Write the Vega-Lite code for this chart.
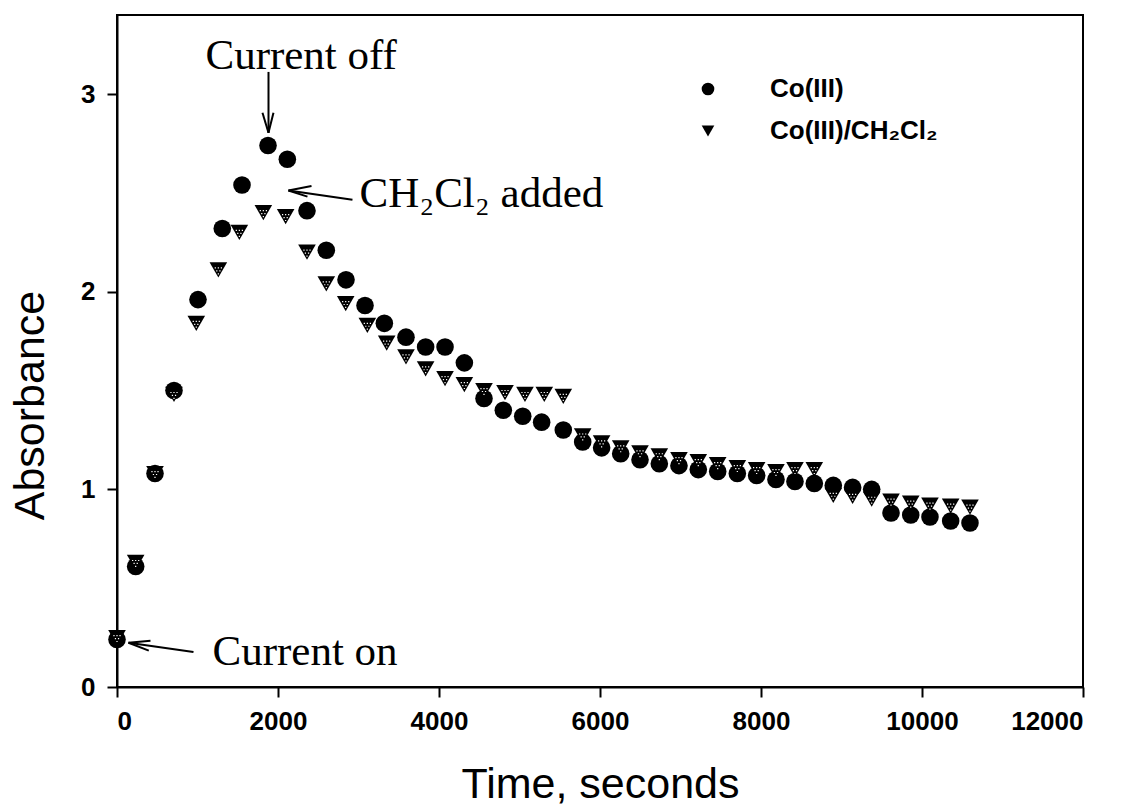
{
  "$schema": "https://vega.github.io/schema/vega-lite/v6.json",
  "width": 966,
  "height": 672,
  "autosize": "none",
  "padding": {"left": 117, "top": 15, "right": 40, "bottom": 120},
  "background": "white",
  "datasets": {
    "absorbance": [
      {"series": "Co(III)", "time": 0, "absorbance": 0.24},
      {"series": "Co(III)", "time": 232, "absorbance": 0.61},
      {"series": "Co(III)", "time": 472, "absorbance": 1.08},
      {"series": "Co(III)", "time": 708, "absorbance": 1.50},
      {"series": "Co(III)", "time": 1006, "absorbance": 1.96},
      {"series": "Co(III)", "time": 1308, "absorbance": 2.32},
      {"series": "Co(III)", "time": 1553, "absorbance": 2.54},
      {"series": "Co(III)", "time": 1876, "absorbance": 2.74},
      {"series": "Co(III)", "time": 2116, "absorbance": 2.67},
      {"series": "Co(III)", "time": 2360, "absorbance": 2.41},
      {"series": "Co(III)", "time": 2600, "absorbance": 2.21},
      {"series": "Co(III)", "time": 2845, "absorbance": 2.06},
      {"series": "Co(III)", "time": 3081, "absorbance": 1.93},
      {"series": "Co(III)", "time": 3321, "absorbance": 1.84},
      {"series": "Co(III)", "time": 3590, "absorbance": 1.77},
      {"series": "Co(III)", "time": 3834, "absorbance": 1.72},
      {"series": "Co(III)", "time": 4075, "absorbance": 1.72},
      {"series": "Co(III)", "time": 4315, "absorbance": 1.64},
      {"series": "Co(III)", "time": 4559, "absorbance": 1.46},
      {"series": "Co(III)", "time": 4799, "absorbance": 1.40},
      {"series": "Co(III)", "time": 5040, "absorbance": 1.37},
      {"series": "Co(III)", "time": 5275, "absorbance": 1.34},
      {"series": "Co(III)", "time": 5544, "absorbance": 1.30},
      {"series": "Co(III)", "time": 5785, "absorbance": 1.24},
      {"series": "Co(III)", "time": 6020, "absorbance": 1.21},
      {"series": "Co(III)", "time": 6257, "absorbance": 1.18},
      {"series": "Co(III)", "time": 6497, "absorbance": 1.15},
      {"series": "Co(III)", "time": 6737, "absorbance": 1.13},
      {"series": "Co(III)", "time": 6981, "absorbance": 1.12},
      {"series": "Co(III)", "time": 7221, "absorbance": 1.10},
      {"series": "Co(III)", "time": 7462, "absorbance": 1.09},
      {"series": "Co(III)", "time": 7706, "absorbance": 1.08},
      {"series": "Co(III)", "time": 7946, "absorbance": 1.07},
      {"series": "Co(III)", "time": 8186, "absorbance": 1.05},
      {"series": "Co(III)", "time": 8422, "absorbance": 1.04},
      {"series": "Co(III)", "time": 8662, "absorbance": 1.03},
      {"series": "Co(III)", "time": 8898, "absorbance": 1.02},
      {"series": "Co(III)", "time": 9138, "absorbance": 1.01},
      {"series": "Co(III)", "time": 9375, "absorbance": 1.00},
      {"series": "Co(III)", "time": 9615, "absorbance": 0.88},
      {"series": "Co(III)", "time": 9860, "absorbance": 0.87},
      {"series": "Co(III)", "time": 10099, "absorbance": 0.86},
      {"series": "Co(III)", "time": 10356, "absorbance": 0.84},
      {"series": "Co(III)", "time": 10596, "absorbance": 0.83},
      {"series": "Co(III)/CH₂Cl₂", "time": 0, "absorbance": 0.25},
      {"series": "Co(III)/CH₂Cl₂", "time": 232, "absorbance": 0.63},
      {"series": "Co(III)/CH₂Cl₂", "time": 472, "absorbance": 1.08},
      {"series": "Co(III)/CH₂Cl₂", "time": 708, "absorbance": 1.48},
      {"series": "Co(III)/CH₂Cl₂", "time": 985, "absorbance": 1.84},
      {"series": "Co(III)/CH₂Cl₂", "time": 1259, "absorbance": 2.11},
      {"series": "Co(III)/CH₂Cl₂", "time": 1520, "absorbance": 2.30},
      {"series": "Co(III)/CH₂Cl₂", "time": 1818, "absorbance": 2.40},
      {"series": "Co(III)/CH₂Cl₂", "time": 2095, "absorbance": 2.38},
      {"series": "Co(III)/CH₂Cl₂", "time": 2360, "absorbance": 2.20},
      {"series": "Co(III)/CH₂Cl₂", "time": 2600, "absorbance": 2.04},
      {"series": "Co(III)/CH₂Cl₂", "time": 2841, "absorbance": 1.94},
      {"series": "Co(III)/CH₂Cl₂", "time": 3110, "absorbance": 1.83},
      {"series": "Co(III)/CH₂Cl₂", "time": 3350, "absorbance": 1.74},
      {"series": "Co(III)/CH₂Cl₂", "time": 3590, "absorbance": 1.67},
      {"series": "Co(III)/CH₂Cl₂", "time": 3834, "absorbance": 1.61},
      {"series": "Co(III)/CH₂Cl₂", "time": 4075, "absorbance": 1.56},
      {"series": "Co(III)/CH₂Cl₂", "time": 4315, "absorbance": 1.53},
      {"series": "Co(III)/CH₂Cl₂", "time": 4559, "absorbance": 1.50},
      {"series": "Co(III)/CH₂Cl₂", "time": 4820, "absorbance": 1.49},
      {"series": "Co(III)/CH₂Cl₂", "time": 5068, "absorbance": 1.48},
      {"series": "Co(III)/CH₂Cl₂", "time": 5308, "absorbance": 1.48},
      {"series": "Co(III)/CH₂Cl₂", "time": 5544, "absorbance": 1.47},
      {"series": "Co(III)/CH₂Cl₂", "time": 5785, "absorbance": 1.27},
      {"series": "Co(III)/CH₂Cl₂", "time": 6020, "absorbance": 1.235},
      {"series": "Co(III)/CH₂Cl₂", "time": 6257, "absorbance": 1.21},
      {"series": "Co(III)/CH₂Cl₂", "time": 6497, "absorbance": 1.185},
      {"series": "Co(III)/CH₂Cl₂", "time": 6737, "absorbance": 1.17},
      {"series": "Co(III)/CH₂Cl₂", "time": 6981, "absorbance": 1.15},
      {"series": "Co(III)/CH₂Cl₂", "time": 7221, "absorbance": 1.14},
      {"series": "Co(III)/CH₂Cl₂", "time": 7462, "absorbance": 1.125},
      {"series": "Co(III)/CH₂Cl₂", "time": 7706, "absorbance": 1.11},
      {"series": "Co(III)/CH₂Cl₂", "time": 7946, "absorbance": 1.10},
      {"series": "Co(III)/CH₂Cl₂", "time": 8186, "absorbance": 1.09},
      {"series": "Co(III)/CH₂Cl₂", "time": 8422, "absorbance": 1.10},
      {"series": "Co(III)/CH₂Cl₂", "time": 8662, "absorbance": 1.10},
      {"series": "Co(III)/CH₂Cl₂", "time": 8898, "absorbance": 0.97},
      {"series": "Co(III)/CH₂Cl₂", "time": 9138, "absorbance": 0.965},
      {"series": "Co(III)/CH₂Cl₂", "time": 9375, "absorbance": 0.95},
      {"series": "Co(III)/CH₂Cl₂", "time": 9615, "absorbance": 0.94},
      {"series": "Co(III)/CH₂Cl₂", "time": 9860, "absorbance": 0.93},
      {"series": "Co(III)/CH₂Cl₂", "time": 10099, "absorbance": 0.92},
      {"series": "Co(III)/CH₂Cl₂", "time": 10356, "absorbance": 0.915},
      {"series": "Co(III)/CH₂Cl₂", "time": 10596, "absorbance": 0.91}
    ],
    "arrows": [
      {"arrow": "Current off", "x": 1882, "y": 3.112, "x2": 1882, "y2": 2.804},
      {"arrow": "Current off", "x": 1807, "y": 2.905, "x2": 1882, "y2": 2.804},
      {"arrow": "Current off", "x": 1944, "y": 2.905, "x2": 1882, "y2": 2.804},
      {"arrow": "CH2Cl2 added", "x": 2925, "y": 2.465, "x2": 2130, "y2": 2.512},
      {"arrow": "CH2Cl2 added", "x": 2416, "y": 2.535, "x2": 2130, "y2": 2.512},
      {"arrow": "CH2Cl2 added", "x": 2366, "y": 2.481, "x2": 2130, "y2": 2.512},
      {"arrow": "Current on", "x": 950, "y": 0.177, "x2": 143, "y2": 0.224},
      {"arrow": "Current on", "x": 416, "y": 0.234, "x2": 143, "y2": 0.224},
      {"arrow": "Current on", "x": 395, "y": 0.184, "x2": 143, "y2": 0.224}
    ],
    "notes": [
      {"label": "Current off", "x": 1099, "y": 3.127},
      {"label": "CH₂Cl₂ added", "x": 3012, "y": 2.43},
      {"label": "Current on", "x": 1186, "y": 0.111}
    ]
  },
  "layer": [
    {
      "data": {"name": "absorbance"},
      "mark": {"type": "point", "filled": true, "size": 310, "opacity": 1, "color": "black", "strokeWidth": 0},
      "encoding": {
        "x": {
          "field": "time", "type": "quantitative",
          "scale": {"domain": [0, 12000], "nice": false, "zero": false},
          "axis": {"title": "Time, seconds", "values": [0, 2000, 4000, 6000, 8000, 10000, 12000], "format": "d",
                   "titleBaseline": "alphabetic", "titleY": 110, "labelPadding": 11}
        },
        "y": {
          "field": "absorbance", "type": "quantitative",
          "scale": {"domain": [0, 3.4], "nice": false},
          "axis": {"title": "Absorbance", "values": [0, 1, 2, 3], "format": "d",
                   "titleAngle": -90, "titleBaseline": "alphabetic", "titleAlign": "center", "titleX": -74, "titleY": 390, "labelPadding": 12}
        },
        "shape": {
          "field": "series", "type": "nominal",
          "scale": {"domain": ["Co(III)", "Co(III)/CH₂Cl₂"], "range": ["circle", "triangle-down"]},
          "legend": {
            "title": null, "orient": "none", "legendX": 578, "legendY": 61,
            "symbolSize": 160, "symbolFillColor": "black", "symbolStrokeColor": "black", "symbolStrokeWidth": 0,
            "labelFont": "Liberation Sans", "labelFontWeight": "bold", "labelFontSize": 26, "labelColor": "black",
            "labelOffset": 49, "rowPadding": 16, "labelLimit": 500
          }
        }
      }
    },
    {
      "data": {"name": "absorbance"},
      "transform": [{"filter": "datum.series === 'Co(III)/CH₂Cl₂'"}],
      "mark": {"type": "point", "filled": true, "size": 300, "opacity": 1, "color": "white", "strokeWidth": 0,
               "shape": "M-0.42,-0.3h0.14v0.14h-0.14z M-0.07,-0.3h0.14v0.14h-0.14z M0.28,-0.3h0.14v0.14h-0.14z M-0.25,0.04h0.14v0.14h-0.14z M0.11,0.04h0.14v0.14h-0.14z M-0.07,0.38h0.14v0.14h-0.14z"},
      "encoding": {
        "x": {"field": "time", "type": "quantitative"},
        "y": {"field": "absorbance", "type": "quantitative"}
      }
    },
    {
      "data": {"name": "arrows"},
      "mark": {"type": "rule", "color": "black", "strokeWidth": 2},
      "encoding": {
        "x": {"field": "x", "type": "quantitative"},
        "y": {"field": "y", "type": "quantitative"},
        "x2": {"field": "x2"},
        "y2": {"field": "y2"}
      }
    },
    {
      "data": {"name": "notes"},
      "mark": {"type": "text", "align": "left", "baseline": "alphabetic", "font": "Liberation Serif", "fontSize": 43, "color": "black"},
      "encoding": {
        "x": {"field": "x", "type": "quantitative"},
        "y": {"field": "y", "type": "quantitative"},
        "text": {"field": "label"}
      }
    }
  ],
  "config": {
    "view": {"stroke": "black", "strokeWidth": 2},
    "axis": {
      "grid": false,
      "domainColor": "black", "domainWidth": 2,
      "tickColor": "black", "tickWidth": 2, "tickSize": 10,
      "labelFont": "Liberation Sans", "labelFontWeight": "bold", "labelFontSize": 26, "labelColor": "black",
      "titleFont": "Liberation Sans", "titleFontWeight": "normal", "titleFontSize": 43, "titleColor": "black"
    }
  }
}
